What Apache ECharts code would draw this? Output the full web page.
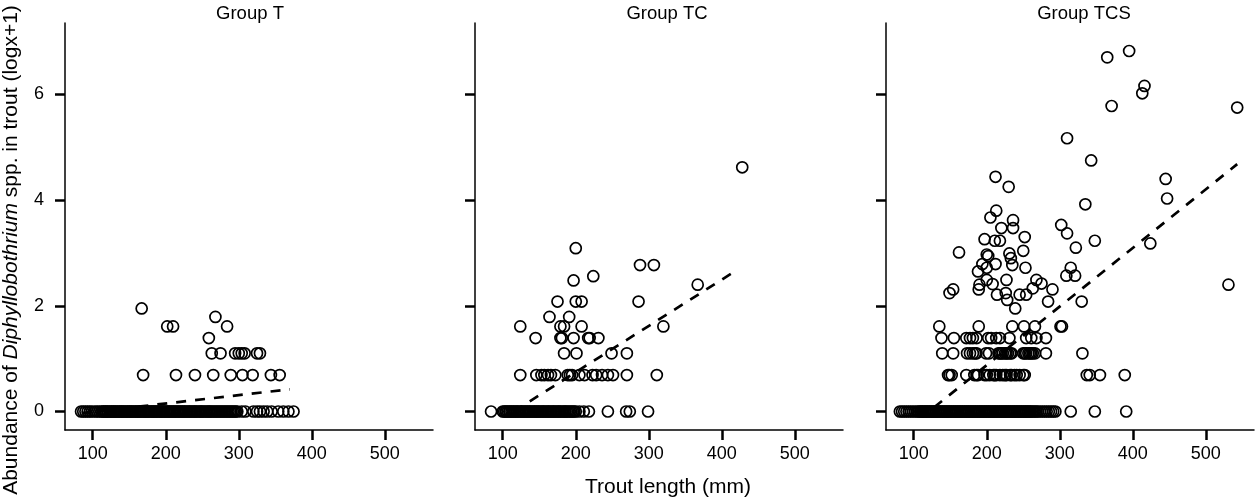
<!DOCTYPE html>
<html>
<head>
<meta charset="utf-8">
<script src="https://cdn.jsdelivr.net/npm/echarts@6/dist/echarts.min.js"></script>
<style>
html,body{margin:0;padding:0;background:#fff;}
#chart{width:1255px;height:500px;}
</style>
</head>
<body>
<div id="chart"></div>
<script>
// ---- data (trout length mm, abundance log(x+1)) ----
const panelTitles = ['Group T', 'Group TC', 'Group TCS'];
const xTicks = [100, 200, 300, 400, 500];
const yTicks = [0, 2, 4, 6];

// infected fish: [length, abundance]
const groupT = [
  [167,1.95],[202,1.61],[210,1.61],[268,1.79],[284,1.61],[259,1.39],
  [263,1.10],[275,1.10],[295,1.10],[300,1.10],[304,1.10],[308,1.10],[325,1.10],[329,1.10],
  [169,0.69],[214,0.69],[240,0.69],[265,0.69],[289,0.69],[305,0.69],[319,0.69],[344,0.69],[356,0.69]
];
// uninfected fish (abundance 0): lengths
const zeroT = [84,87,90,93,96,99,103,106,109,112,114,115,117,118,120,121,123,125,126,128,129,131,132,
  134,136,137,139,140,142,143,145,147,148,150,151,153,154,156,158,159,161,162,164,165,167,169,170,172,
  173,175,176,178,180,181,183,184,186,187,189,191,192,194,195,197,198,200,202,203,205,206,208,210,211,
  213,215,216,218,220,221,223,225,226,228,230,232,233,235,237,239,240,242,244,246,248,249,251,253,255,
  257,259,260,262,264,266,268,270,272,274,276,278,280,282,284,286,288,290,292,294,296,298,304,309,320,
  325,329,334,339,345,354,361,368,375];

const groupTC = [
  [428,4.62],[200,3.09],[288,2.77],[307,2.77],[224,2.56],[197,2.48],[367,2.40],
  [175,2.08],[200,2.08],[208,2.08],[286,2.08],[164,1.79],[191,1.79],
  [124,1.61],[179,1.61],[184,1.61],[208,1.61],[320,1.61],
  [145,1.39],[179,1.39],[181,1.39],[197,1.39],[217,1.39],[219,1.39],[231,1.39],
  [184,1.10],[201,1.10],[249,1.10],[270,1.10],
  [124,0.69],[146,0.69],[153,0.69],[157,0.69],[162,0.69],[166,0.69],[172,0.69],[189,0.69],[192,0.69],
  [195,0.69],[205,0.69],[212,0.69],[223,0.69],[228,0.69],[236,0.69],[244,0.69],[251,0.69],[270,0.69],[311,0.69]
];
const zeroTC = [84,100,102,104,105,107,109,110,112,114,115,117,119,120,122,124,126,127,129,131,132,134,
  136,137,139,141,143,144,146,148,149,151,153,155,156,158,160,162,163,165,167,169,170,172,174,176,177,
  179,181,183,185,186,188,190,192,194,196,198,200,205,211,218,244,269,274,299];

const groupTCS = [
  [395,6.82],[365,6.70],[416,6.16],[413,6.02],[371,5.78],[543,5.75],[310,5.17],[343,4.75],
  [445,4.40],[447,4.03],[335,3.92],[212,4.44],[230,4.25],[213,3.80],[205,3.67],[236,3.62],
  [220,3.47],[236,3.47],[302,3.53],[310,3.37],[197,3.26],[211,3.23],[218,3.23],[252,3.30],
  [348,3.23],[424,3.18],[322,3.10],[162,3.01],[200,2.97],[202,2.94],[231,2.99],[233,2.90],
  [250,3.04],[194,2.79],[200,2.72],[212,2.79],[235,2.77],[253,2.72],[315,2.72],[188,2.65],
  [309,2.57],[321,2.57],[200,2.49],[227,2.49],[268,2.49],[275,2.42],[190,2.40],[208,2.41],
  [531,2.40],[154,2.31],[149,2.24],[189,2.31],[263,2.33],[290,2.31],[214,2.21],[226,2.24],
  [228,2.11],[245,2.21],[254,2.21],[284,2.08],[330,2.08],[239,1.95],
  [135,1.61],[189,1.61],[235,1.61],[251,1.61],[266,1.61],[301,1.61],[303,1.61],
  [138,1.39],[155,1.39],[172,1.39],[177,1.39],[181,1.39],[186,1.39],[202,1.39],[206,1.39],
  [213,1.39],[218,1.39],[231,1.39],[254,1.39],[261,1.39],[268,1.39],[281,1.39],
  [139,1.10],[154,1.10],[173,1.10],[177,1.10],[181,1.10],[184,1.10],[186,1.10],[199,1.10],
  [203,1.10],[216,1.10],[218,1.10],[220,1.10],[222,1.10],[225,1.10],[227,1.10],[229,1.10],
  [232,1.10],[234,1.10],[250,1.10],[252,1.10],[254,1.10],[257,1.10],[259,1.10],[261,1.10],
  [263,1.10],[266,1.10],[281,1.10],[331,1.10],
  [147,0.69],[149,0.69],[152,0.69],[172,0.69],[183,0.69],[186,0.69],[188,0.69],[197,0.69],
  [200,0.69],[204,0.69],[209,0.69],[211,0.69],[213,0.69],[218,0.69],[222,0.69],[225,0.69],
  [227,0.69],[232,0.69],[234,0.69],[238,0.69],[241,0.69],[245,0.69],[250,0.69],[252,0.69],
  [337,0.69],[341,0.69],[355,0.69],[389,0.69]
];
const zeroTCS = [81,84,87,90,93,96,99,102,105,107,109,110,112,113,115,116,118,119,121,122,124,125,127,
  128,130,131,133,134,136,137,139,140,142,143,145,146,148,149,151,152,154,155,157,158,160,161,163,164,
  166,167,169,170,172,173,175,176,178,179,181,182,184,185,187,188,190,191,193,194,196,197,199,200,202,
  203,205,206,208,209,211,212,214,215,217,218,220,221,223,224,226,227,229,230,232,233,235,236,238,239,
  241,242,244,245,247,248,250,251,253,254,256,257,259,260,262,264,266,268,270,273,276,279,282,285,288,
  291,294,315,348,391];

// fitted dashed trend lines (endpoints)
const fitT = [[85,-0.03],[370,0.42]];
const fitTC = [[115,0.0],[420,2.67]];
const fitTCS = [[128,0.08],[543,4.68]];

const groups = [groupT, groupTC, groupTCS];
const zeros = [zeroT, zeroTC, zeroTCS];
const fits = [fitT, fitTC, fitTCS];

// ---- layout ----
const FONT = '"Liberation Sans", Arial, Helvetica, sans-serif';
const gridLefts = [65, 475, 886];
const gridW = 368, gridTop = 23, gridH = 407;
const titleCenters = [250, 667, 1084];

const grids = [], xAxes = [], yAxes = [], series = [], graphics = [];
for (let i = 0; i < 3; i++) {
  grids.push({left: gridLefts[i], top: gridTop, width: gridW, height: gridH, containLabel: false});
  xAxes.push({
    type: 'value', gridIndex: i, min: 62, max: 566,
    axisLine: {show: true, onZero: false, lineStyle: {color: '#000', width: 1.5}},
    axisTick: {show: true, inside: false, length: 10, customValues: xTicks, lineStyle: {color: '#000', width: 2.5}},
    axisLabel: {show: true, customValues: xTicks, fontSize: 18, color: '#000', margin: 15, fontFamily: FONT},
    splitLine: {show: false}
  });
  yAxes.push({
    type: 'value', gridIndex: i, min: -0.35, max: 7.35,
    axisLine: {show: true, onZero: false, lineStyle: {color: '#000', width: 1.5}},
    axisTick: {show: true, inside: false, length: 10, customValues: yTicks, lineStyle: {color: '#000', width: 2.5}},
    axisLabel: {show: i === 0, customValues: yTicks, fontSize: 18, color: '#000', margin: 21, fontFamily: FONT},
    splitLine: {show: false}
  });
  const pts = groups[i].concat(zeros[i].map(function (len) { return [len, 0]; }));
  series.push({
    type: 'line', xAxisIndex: i, yAxisIndex: i, data: fits[i], symbol: 'none',
    lineStyle: {color: '#000', width: 2.7, type: [10, 9]}, z: 3, silent: true, animation: false
  });
  series.push({
    type: 'scatter', xAxisIndex: i, yAxisIndex: i, data: pts,
    symbol: 'circle', symbolSize: 11, large: false,
    itemStyle: {color: 'rgba(255,255,255,0)', borderColor: '#000', borderWidth: 1.7, opacity: 1},
    emphasis: {disabled: true}, silent: true, z: 2, animation: false
  });
  graphics.push({
    type: 'text', x: titleCenters[i], y: 13.5,
    style: {text: panelTitles[i], fill: '#000', font: '18.5px ' + FONT,
      textAlign: 'center', textVerticalAlign: 'middle', align: 'center', verticalAlign: 'middle'}
  });
}
graphics.push({
  type: 'text', x: 668, y: 487,
  style: {text: 'Trout length (mm)', fill: '#000', font: '21px ' + FONT,
    textAlign: 'center', textVerticalAlign: 'middle', align: 'center', verticalAlign: 'middle'}
});
graphics.push({
  type: 'text', x: 11, y: 250, rotation: Math.PI / 2,
  style: {
    text: '{n|Abundance of }{i|Diphyllobothrium}{n| spp. in trout (logx+1)}',
    fill: '#000', font: '21px ' + FONT,
    textAlign: 'center', textVerticalAlign: 'middle', align: 'center', verticalAlign: 'middle',
    rich: {
      n: {fontSize: 21, fontFamily: FONT, fill: '#000', color: '#000'},
      i: {fontSize: 21, fontFamily: FONT, fontStyle: 'italic', fill: '#000', color: '#000'}
    }
  }
});

const chart = echarts.init(document.getElementById('chart'), null, {renderer: 'canvas'});
chart.setOption({
  animation: false,
  backgroundColor: '#fff',
  grid: grids,
  xAxis: xAxes,
  yAxis: yAxes,
  series: series,
  graphic: graphics
});
</script>
</body>
</html>
